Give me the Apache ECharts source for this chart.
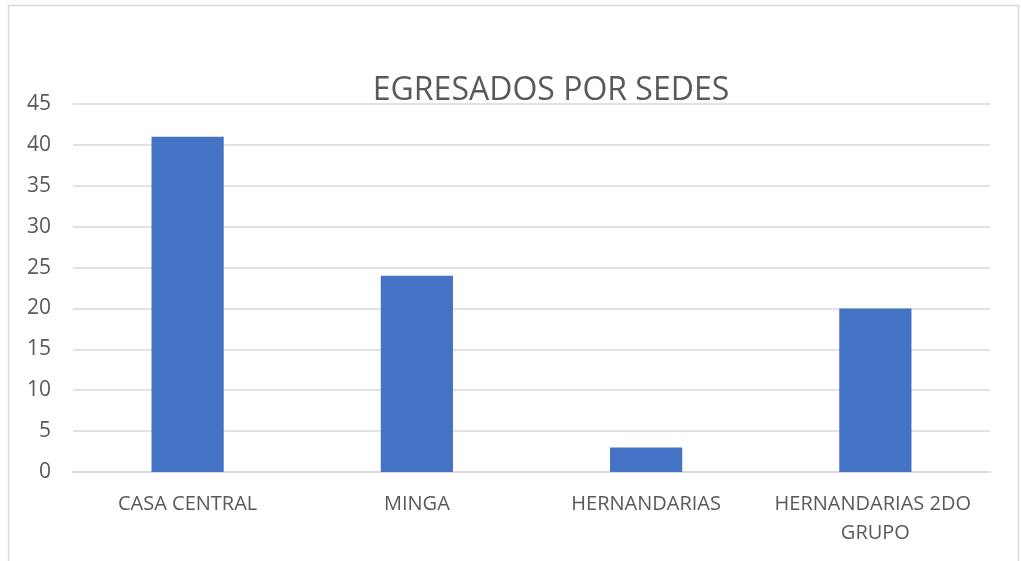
<!DOCTYPE html>
<html><head><meta charset="utf-8">
<script src="https://cdn.jsdelivr.net/npm/echarts@6/dist/echarts.min.js"></script>
<style>html,body{margin:0;padding:0;background:#fff;}#c{width:1021px;height:561px;}</style>
</head><body><div id="c"></div>
<script>
const categories = ["CASA CENTRAL", "MINGA", "HERNANDARIAS", "HERNANDARIAS 2DO GRUPO"];
const values = [41, 24, 3, 20];
const yTicks = [0, 5, 10, 15, 20, 25, 30, 35, 40, 45];
const titleText = "EGRESADOS POR SEDES";

const chart = echarts.init(document.getElementById('c'), null, {renderer: 'canvas'});
const font = '"Open Sans", "Liberation Sans", sans-serif';
chart.setOption({
  animation: false,
  backgroundColor: '#ffffff',
  graphic: [{
    type: 'rect', silent: true, z: -1,
    shape: {x: 8.5, y: 5.5, width: 1010, height: 620},
    style: {fill: 'none', stroke: '#D9D9D9', lineWidth: 1.5}
  }],
  title: {
    text: titleText, left: 546, top: 70, textAlign: 'center',
    textStyle: {fontFamily: font, fontSize: 32, fontWeight: 'normal', color: '#595959'}
  },
  grid: {left: 73, right: 31, top: 104, bottom: 89, containLabel: false},
  xAxis: {
    type: 'category', data: categories,
    axisLine: {lineStyle: {color: '#D9D9D9', width: 1.5}},
    axisTick: {show: false},
    axisLabel: {
      color: '#595959', fontFamily: font, fontSize: 20, margin: 18,
      width: 215, overflow: 'break', lineHeight: 29, interval: 0
    }
  },
  yAxis: {
    type: 'value', min: yTicks[0], max: yTicks[yTicks.length - 1], interval: 5,
    axisLine: {show: false}, axisTick: {show: false},
    splitLine: {lineStyle: {color: '#D9D9D9', width: 1.5}},
    axisLabel: {color: '#595959', fontFamily: font, fontSize: 21, margin: 22}
  },
  series: [{
    type: 'bar', data: values, barWidth: '31.5%',
    itemStyle: {color: '#4472C4'}
  }]
});
</script></body></html>
